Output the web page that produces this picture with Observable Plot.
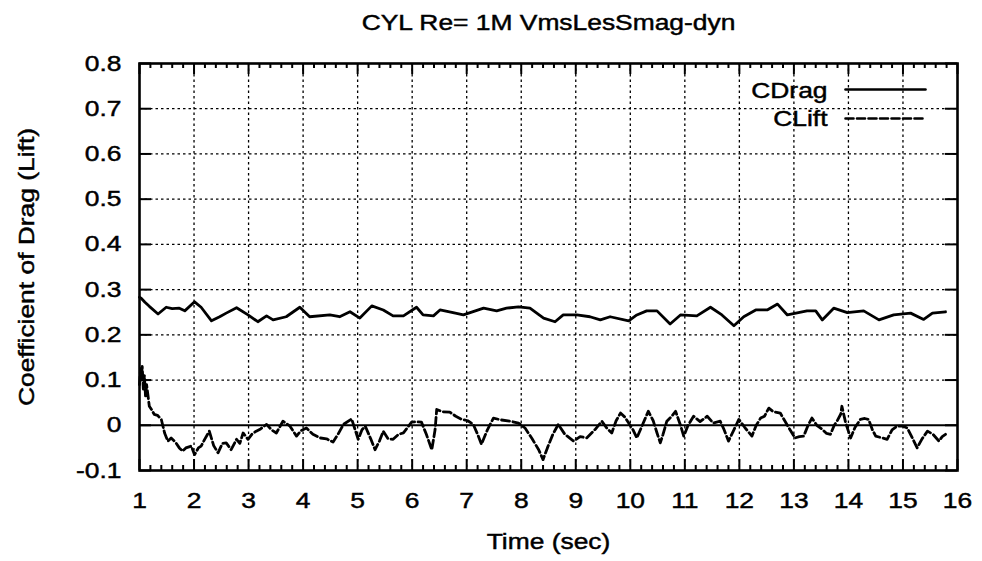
<!DOCTYPE html>
<html>
<head>
<meta charset="utf-8">
<script src="https://cdn.jsdelivr.net/npm/d3@7"></script>
<script src="https://cdn.jsdelivr.net/npm/@observablehq/plot@0.6"></script>
<style>
  html, body { margin: 0; padding: 0; background: #fff; }
  #chart svg text { stroke: #000; stroke-width: 0.45px; }
</style>
</head>
<body>
<div id="chart"></div>
<script>
const title = "CYL Re= 1M VmsLesSmag-dyn";
const xLabel = "Time (sec)";
const yLabel = "Coefficient of Drag (Lift)";
const seriesNames = ["CDrag", "CLift"];
const xTicks = [1, 2, 3, 4, 5, 6, 7, 8, 9, 10, 11, 12, 13, 14, 15, 16];
const yTicks = [-0.1, 0, 0.1, 0.2, 0.3, 0.4, 0.5, 0.6, 0.7, 0.8];
const yTickLabels = ["-0.1", "0", "0.1", "0.2", "0.3", "0.4", "0.5", "0.6", "0.7", "0.8"];

const dragTime = [1.00,1.03,1.10,1.18,1.34,1.49,1.60,1.73,1.83,2.01,2.13,2.32,2.47,2.59,2.78,2.99,3.17,3.33,3.45,3.69,3.94,4.12,4.49,4.67,4.86,5.04,5.26,5.47,5.65,5.84,6.08,6.20,6.39,6.51,6.75,6.94,7.31,7.55,7.73,7.95,8.16,8.41,8.62,8.77,9.02,9.26,9.45,9.63,9.97,10.12,10.30,10.49,10.73,10.92,11.22,11.47,11.68,11.90,12.08,12.30,12.51,12.70,12.88,13.24,13.40,13.52,13.73,13.98,14.28,14.56,14.83,15.14,15.38,15.54,15.78];
const dragValue = [0.283,0.281,0.272,0.263,0.246,0.261,0.258,0.259,0.253,0.273,0.261,0.231,0.240,0.248,0.260,0.244,0.229,0.242,0.233,0.240,0.261,0.240,0.244,0.240,0.251,0.237,0.264,0.255,0.242,0.242,0.261,0.244,0.242,0.255,0.249,0.244,0.259,0.253,0.259,0.262,0.259,0.237,0.229,0.244,0.244,0.240,0.233,0.240,0.231,0.244,0.253,0.253,0.224,0.244,0.242,0.261,0.244,0.220,0.240,0.255,0.255,0.268,0.244,0.253,0.253,0.233,0.259,0.249,0.253,0.233,0.244,0.248,0.234,0.248,0.251];

const liftTime = [1.00,1.02,1.03,1.05,1.07,1.09,1.11,1.13,1.18,1.22,1.27,1.33,1.40,1.46,1.52,1.58,1.67,1.73,1.79,1.85,1.95,2.01,2.08,2.13,2.20,2.28,2.36,2.44,2.52,2.59,2.68,2.78,2.84,2.90,2.99,3.06,3.14,3.22,3.33,3.42,3.51,3.63,3.76,3.88,3.96,4.06,4.18,4.31,4.43,4.55,4.64,4.74,4.89,5.01,5.08,5.14,5.24,5.32,5.40,5.47,5.56,5.65,5.75,5.84,5.99,6.08,6.17,6.26,6.36,6.42,6.45,6.55,6.69,6.80,6.91,7.02,7.12,7.20,7.27,7.38,7.49,7.62,7.80,7.95,8.07,8.20,8.32,8.40,8.48,8.58,8.68,8.80,8.96,9.08,9.20,9.35,9.48,9.56,9.66,9.74,9.82,9.90,9.97,10.05,10.12,10.22,10.33,10.42,10.49,10.55,10.60,10.67,10.76,10.83,10.92,10.98,11.06,11.16,11.28,11.41,11.52,11.65,11.72,11.80,11.90,11.99,12.10,12.23,12.31,12.39,12.46,12.54,12.62,12.75,12.88,13.02,13.10,13.18,13.26,13.33,13.42,13.52,13.60,13.67,13.74,13.79,13.86,13.88,13.95,14.04,14.12,14.22,14.30,14.37,14.44,14.50,14.62,14.71,14.80,14.89,15.00,15.08,15.18,15.26,15.35,15.45,15.55,15.66,15.72,15.78];
const liftValue = [0.090,0.125,0.100,0.130,0.080,0.110,0.065,0.090,0.042,0.035,0.024,0.022,0.013,-0.017,-0.035,-0.028,-0.039,-0.050,-0.057,-0.050,-0.046,-0.065,-0.050,-0.046,-0.030,-0.013,-0.045,-0.061,-0.040,-0.039,-0.054,-0.031,-0.040,-0.017,-0.031,-0.020,-0.013,-0.008,0.002,-0.010,-0.017,0.009,-0.002,-0.024,-0.012,-0.006,-0.020,-0.028,-0.030,-0.037,-0.020,0.002,0.014,-0.031,-0.010,-0.002,-0.030,-0.054,-0.035,-0.013,-0.030,-0.031,-0.020,-0.017,0.007,0.008,0.007,-0.020,-0.054,-0.010,0.035,0.030,0.029,0.020,0.013,0.010,0.002,-0.020,-0.042,-0.010,0.016,0.012,0.009,0.005,-0.006,-0.030,-0.054,-0.076,-0.050,-0.020,0.002,-0.020,-0.035,-0.025,-0.028,-0.010,0.009,-0.005,-0.017,0.010,0.027,0.018,0.005,-0.010,-0.028,0.000,0.031,0.010,-0.017,-0.039,-0.020,0.009,0.020,0.031,0.000,-0.024,0.000,0.020,0.008,0.020,0.005,0.009,-0.010,-0.035,-0.010,0.013,-0.005,-0.024,0.000,0.016,0.020,0.038,0.030,0.027,0.000,-0.028,-0.025,-0.024,0.000,0.016,0.000,-0.009,-0.018,-0.020,0.000,0.009,0.025,0.042,0.005,-0.028,-0.005,0.013,0.015,0.013,-0.010,-0.024,-0.028,-0.031,-0.010,-0.002,-0.002,-0.006,-0.030,-0.050,-0.030,-0.013,-0.020,-0.035,-0.025,-0.020];

const drag = dragTime.map((t, i) => ({t, v: dragValue[i]}));
const lift = liftTime.map((t, i) => ({t, v: liftValue[i]}));
const xMinor = d3.range(10, 160, 2).map(d => d / 10).filter(d => !Number.isInteger(d));
const xGrid = xTicks.slice(1, -1);
const yGrid = yTicks.slice(1, -1).filter(d => d !== 0);

const W = 982, H = 561;
const mT = 63, mB = 91, mL = 139, mR = 25;
const pW = W - mL - mR, pH = H - mT - mB;
const dash = "8,3.5";
const lineShape = {draw(ctx, l) { ctx.moveTo(0, 0); ctx.lineTo(0, -l); }};

const chart = Plot.plot({
  width: W, height: H,
  marginTop: mT, marginBottom: mB, marginLeft: mL, marginRight: mR,
  style: {fontFamily: "'Liberation Sans', Arial, sans-serif", fontSize: "22px", color: "#000", background: "#fff"},
  x: {domain: [1, 16]},
  y: {domain: [-0.1, 0.8]},
  marks: [
    Plot.ruleX(xGrid, {x: d => d, stroke: "#000", strokeWidth: 1.3, strokeDasharray: "2.5,3"}),
    Plot.ruleY(yGrid, {y: d => d, stroke: "#000", strokeWidth: 1.3, strokeDasharray: "2.5,3"}),
    Plot.ruleY([0], {stroke: "#000", strokeWidth: 2}),
    Plot.tickX(xTicks, {x: d => d, insetTop: pH - 11, strokeWidth: 2}),
    Plot.tickX(xTicks, {x: d => d, insetBottom: pH - 11, strokeWidth: 2}),
    Plot.tickX(xMinor, {x: d => d, insetTop: pH - 5, strokeWidth: 2}),
    Plot.tickX(xMinor, {x: d => d, insetBottom: pH - 5, strokeWidth: 2}),
    Plot.tickY(yTicks, {y: d => d, insetRight: pW - 12, strokeWidth: 2}),
    Plot.tickY(yTicks, {y: d => d, insetLeft: pW - 12, strokeWidth: 2}),
    Plot.line(drag, {x: "t", y: "v", stroke: "#000", strokeWidth: 2.8}),
    Plot.line(lift, {x: "t", y: "v", stroke: "#000", strokeWidth: 2.8, strokeDasharray: dash}),
    Plot.frame({stroke: "#000", strokeWidth: 2.6}),
    Plot.axisX(xTicks, {tickSize: 0, tickPadding: 22, tickFormat: d => String(d), label: null}),
    Plot.axisY(yTicks, {tickSize: 0, tickPadding: 18, tickFormat: d => yTickLabels[yTicks.indexOf(d)], label: null}),
    Plot.text([title], {frameAnchor: "top", dy: -41, lineAnchor: "middle", textAnchor: "middle"}),
    Plot.text([xLabel], {frameAnchor: "bottom", dy: 71, lineAnchor: "middle", textAnchor: "middle"}),
    Plot.text([yLabel], {frameAnchor: "left", dx: -113, rotate: -90, lineAnchor: "middle", textAnchor: "middle"}),
    Plot.text([seriesNames[0]], {frameAnchor: "top-right", dx: -130, dy: 27, textAnchor: "end", lineAnchor: "middle"}),
    Plot.text([seriesNames[1]], {frameAnchor: "top-right", dx: -130, dy: 55, textAnchor: "end", lineAnchor: "middle"}),
    Plot.vector([seriesNames[0]], {frameAnchor: "top-right", dx: -32, dy: 26, length: 80, rotate: 90, anchor: "end", shape: lineShape, stroke: "#000", strokeWidth: 2.6}),
    Plot.vector([seriesNames[1]], {frameAnchor: "top-right", dx: -32, dy: 55, length: 80, rotate: 90, anchor: "end", shape: lineShape, stroke: "#000", strokeWidth: 2.6, strokeDasharray: dash})
  ]
});

// widen glyphs along their own direction to match the wide bitmap font
chart.querySelectorAll("text").forEach(t => {
  const tr = t.getAttribute("transform") || "";
  t.setAttribute("transform", (tr + " scale(1.2,1)").trim());
});

document.getElementById("chart").appendChild(chart);
</script>
</body>
</html>
